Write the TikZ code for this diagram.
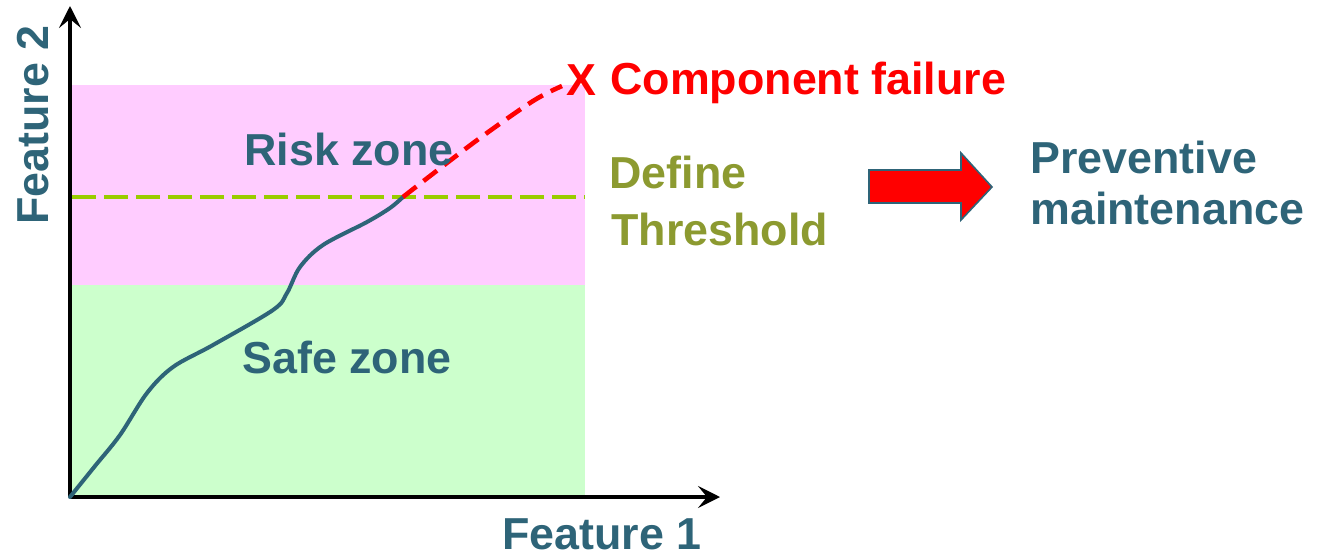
\documentclass[tikz,border=0pt]{standalone}
\usepackage{fontspec}
\setmainfont{Liberation Sans}
\usetikzlibrary{arrows.meta}
\definecolor{tealtxt}{HTML}{2E6478}
\definecolor{riskpink}{HTML}{FFCCFF}
\definecolor{safegreen}{HTML}{CCFFCC}
\definecolor{threshline}{HTML}{99CC00}
\definecolor{olivetxt}{HTML}{8C9A30}
\tikzset{
  lbl/.style={inner sep=0pt, anchor=base west, font=\fontsize{22.4}{26}\selectfont\bfseries},
  axis/.style={line width=2pt, -{Stealth[length=11pt,width=11pt,inset=4.5pt]}},
}
\begin{document}
\begin{tikzpicture}[x=0.5pt,y=-0.5pt]
\useasboundingbox (0,0) rectangle (1322,556);
% zones
\fill[riskpink] (70,85) rectangle (585,285);
\fill[safegreen] (70,285) rectangle (585,497);
% threshold
\draw[threshline, line width=2pt, dash pattern=on 12pt off 4pt] (72,197) -- (585,197);
% axes
\coordinate (o) at (70,497);
\coordinate (ytip) at (70,6);
\coordinate (xtip) at (720,497);
\draw[axis] (o) -- (ytip);
\draw[axis] (o) -- (xtip);
% degradation path
\draw[tealtxt, line width=2pt, line cap=round] plot[smooth, tension=0.55] coordinates
  {(70,497) (95,466) (120,435) (147,393) (173,367) (213,345) (273,310) (287,293) (300,267) (323,245) (367,222) (390,208) (403,197)};
\draw[red, line width=2.3pt, dash pattern=on 8.5pt off 4.5pt] plot[smooth, tension=0.55] coordinates
  {(403,197) (430,176) (480,138) (533,101) (562,86)};
% labels
\node[lbl, text=red, anchor=center] (failx) at (581,80) {X};
\node[lbl, text=red] (fail) at (610,95) {Component failure};
\node[lbl, text=tealtxt] (risk) at (244,165) {Risk zone};
\node[lbl, text=tealtxt] (safe) at (242,373) {Safe zone};
\node[lbl, text=olivetxt] (def1) at (609,188) {Define};
\node[lbl, text=olivetxt] (def2) at (611,245) {Threshold};
\node[lbl, text=tealtxt] (prev1) at (1030,173) {Preventive};
\node[lbl, text=tealtxt] (prev2) at (1030,224) {maintenance};
\node[lbl, text=tealtxt] (f1) at (502,549) {Feature 1};
\node[lbl, text=tealtxt, rotate=90] (f2) at (48,225) {Feature 2};
% block arrow
\draw[fill=red, draw=tealtxt, line width=0.8pt, line join=miter]
  (869,170) -- (961,170) -- (961,153) -- (992,187) -- (961,220) -- (961,203) -- (869,203) -- cycle;
\end{tikzpicture}
\end{document}
